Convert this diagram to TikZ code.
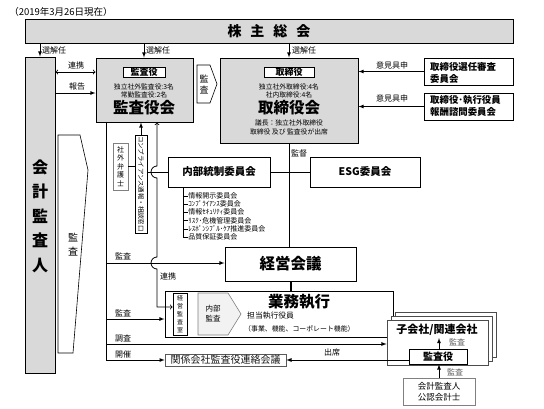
\documentclass[tikz,border=0pt]{standalone}
\usepackage{fontspec}
\setmainfont{Noto Sans CJK JP}
\usetikzlibrary{positioning,arrows}
\newcommand{\fsz}[2]{\fontsize{#1}{#2}\selectfont}

\begin{document}
\begin{tikzpicture}[x=1pt,y=1pt,
  gbox/.style={draw,fill=gray!30,line width=1pt,inner sep=0pt},
  wbox/.style={draw,fill=white,line width=1pt,inner sep=0pt},
  lbl/.style={inner sep=0pt,font=\fsz{8}{9}},
  arr/.style={-latex,line width=0.8pt},
  lnk/.style={to-to,line width=0.8pt}]
\tikzstyle{every node}+=[inner sep=0pt]
\useasboundingbox (0,0) rectangle (544,-408);
\node[font=\fsz{9.5}{10}] (date) at (61,-12) {（2019年3月26日現在）};
\node[gbox,minimum width=488,minimum height=24,font=\bfseries\fsz{14}{14}] (kabunushi) at (269,-31) {株\hspace{9pt}主\hspace{9pt}総\hspace{9pt}会};
\node[gbox,minimum width=30,minimum height=316] (kaikei) at (40,-215) {};
\node[font=\bfseries\fsz{16}{24.5},align=center] (kaikeitxt) at (40,-216) {会\\計\\監\\査\\人};
\draw[line width=0.6pt] (58,-135) -- (80,-135) -- (88,-170) -- (73,-353) -- (58,-353) -- cycle;
\node[font=\fsz{10}{14},align=center] (kansaL) at (73,-245) {監\\査};
\node[gbox,minimum width=97,minimum height=64] (kansakai) at (144.5,-90) {};
\node[wbox,line width=0.6pt,minimum width=42,minimum height=10,font=\bfseries\fsz{9}{9}] (kansayaku) at (144,-72.5) {監査役};
\node[font=\fsz{6.8}{8.2},align=center] (kansainfo) at (144,-91) {独立社外監査役:3名\\常勤監査役:2名};
\node[font=\bfseries\fsz{15.5}{16}] (kansakaitxt) at (144,-108) {監査役会};
\node[gbox,minimum width=138,minimum height=85] (torikai) at (289,-100.5) {};
\node[wbox,line width=0.6pt,minimum width=50,minimum height=10,font=\bfseries\fsz{9}{9}] (torishimari) at (289,-72) {取締役};
\node[font=\fsz{6.8}{8.2},align=center] (toriinfo) at (289,-91) {独立社外取締役:4名\\社内取締役:4名};
\node[font=\bfseries\fsz{15.5}{16}] (torikaitxt) at (289,-108) {取締役会};
\node[font=\fsz{6.8}{9},align=center] (gicho) at (289,-127.5) {議長：独立社外取締役\\取締役 及び 監査役が出席};
\draw[line width=0.6pt,fill=white] (197,-65) -- (210,-65) -- (217,-84) -- (210,-103) -- (197,-103) -- cycle;
\node[font=\fsz{9}{11},align=center] (kansaM) at (204,-84) {監\\査};
\node[draw,line width=1pt,minimum width=89,minimum height=27] (senin) at (468.5,-71.5) {};
\node[font=\bfseries\fsz{9.4}{12},align=left,anchor=west] at (430,-73) {取締役選任審査\\委員会};
\node[draw,line width=1pt,minimum width=89,minimum height=27] (hoshu) at (468.5,-106.5) {};
\node[font=\bfseries\fsz{9.4}{12},align=left,anchor=west] at (430,-105.5) {取締役･執行役員\\報酬諮問委員会};
\draw[arr] (senin.west) -- (senin.west -| torikai.east);
\draw[arr] (hoshu.west) -- (hoshu.west -| torikai.east);
\node[lbl] (iken1) at (392,-65) {意見具申};
\node[lbl] (iken2) at (392,-98) {意見具申};
\draw[arr] (kabunushi.south -| kaikei) -- (kaikei.north);
\draw[arr] (kabunushi.south -| 144,0) -- (kansakai.north -| 144,0);
\draw[arr] (kabunushi.south -| torikai) -- (torikai.north);
\node[lbl,anchor=west] (sen1) at (42,-50) {選解任};
\node[lbl,anchor=west] (sen2) at (146,-50) {選解任};
\node[lbl,anchor=west] (sen3) at (292,-50) {選解任};
\draw[lnk] (kaikei.east |- 0,-72) -- (kansakai.west |- 0,-72);
\draw[arr] (kaikei.east |- 0,-93) -- (kansakai.west |- 0,-93);
\node[lbl] (renkei1) at (76,-65) {連携};
\node[lbl] (hokoku) at (77,-86) {報告};
\node[draw=gray,line width=0.6pt,fill=white,minimum width=15,minimum height=47,font=\fsz{7}{8.5},align=center] (bengoshi) at (120.5,-166.5) {社\\外\\弁\\護\\士};
\node[wbox,line width=0.6pt,minimum width=12,minimum height=98] (comp) at (141,-184) {};
\node[rotate=-90,font=\fsz{6.4}{6.4}] (comptxt) at (comp) {コンプライアンス通報・相談窓口};
\draw[arr] (comp.north) -- (comp.north |- kansakai.south);
\draw[line width=0.6pt] (bengoshi.east) -- (comp.west |- bengoshi.east);
\node[wbox,minimum width=102,minimum height=30,font=\bfseries\fsz{10.5}{11}] (naibu) at (219,-172) {内部統制委員会};
\node[wbox,minimum width=110,minimum height=30,font=\bfseries\fsz{10.5}{11}] (esg) at (365,-172) {ESG委員会};
\draw[line width=0.8pt] (comp.east |- naibu) -- (naibu.west);
\draw[line width=0.8pt] (naibu.east) -- (esg.west);
\draw[line width=0.6pt] (183,-187) -- (183,-237);
\foreach \y/\t in {196/情報開示委員会,204/ｺﾝﾌﾟﾗｲｱﾝｽ委員会,212/情報ｾｷｭﾘﾃｨ委員会,220.5/ﾘｽｸ･危機管理委員会,229/ﾚｽﾎﾟﾝｼﾌﾞﾙ･ｹｱ推進委員会,237/品質保証委員会}
  {\draw[line width=0.6pt] (183,-\y) -- (188,-\y) node[anchor=west,font=\fsz{7}{7}] {\t};}
\node[wbox,minimum width=131,minimum height=34,font=\bfseries\fsz{15.5}{16}] (keiei) at (290.5,-264) {経営会議};
\draw[line width=0.8pt] (torikai.south) -- (torikai.south |- keiei.north);
\node[lbl] (kantoku) at (299,-153) {監督};
\node[wbox,minimum width=228,minimum height=46] (gyomu) at (279,-314) {};
\draw[line width=2pt] (keiei.south) -- (keiei.south |- gyomu.north);
\node[font=\bfseries\fsz{15.5}{16}] (gyomutxt) at (299,-302) {業務執行};
\node[font=\fsz{7.8}{8},anchor=west] (tanto) at (247,-316) {担当執行役員};
\node[font=\fsz{6.9}{7},anchor=west] (jigyo) at (244,-329) {（事業、機能、コーポレート機能）};
\node[wbox,line width=0.8pt,minimum width=14,minimum height=42,font=\fsz{6}{8},align=center] (keieikansa) at (180,-314) {経\\営\\監\\査\\室};
\draw[draw=gray,fill=gray!10,line width=0.6pt] (198,-293) -- (228,-293) -- (241,-314) -- (228,-335) -- (198,-335) -- cycle;
\node[font=\fsz{7.5}{10},align=center] (naibukansa) at (213,-314) {内部\\監査};
\node[draw=gray!70!black,line width=0.6pt,minimum width=121,minimum height=12,font=\fsz{10}{10},text=gray!20!black] (kanren) at (225.5,-360) {関係会社監査役連絡会議};
\draw[line width=0.8pt] (kansakai.south -| 106,0) -- (106,-360);
\draw[arr] (106,-263) -- (keiei.west |- 0,-263);
\draw[arr] (106,-319) -- (gyomu.west |- 0,-319);
\draw[arr] (106,-360) -- (kanren.west);
\node[lbl] (kansa1) at (123,-256) {監査};
\node[lbl] (kansa2) at (123,-313) {監査};
\node[lbl] (chosa) at (123,-338) {調査};
\node[lbl] (kaisai) at (123,-354) {開催};
\draw[lnk] (kansakai.south -| 157,0) -- (157,-166) arc[start angle=90,end angle=270,radius=6] -- (157,-257) arc[start angle=90,end angle=270,radius=6] -- (157,-307) -- (keieikansa.west |- 0,-307);
\node[lbl] (renkei2) at (168,-276) {連携};
\node[draw=gray!60!black,fill=white,line width=0.7pt,minimum width=101,minimum height=45] (kogB) at (445.5,-334.5) {};
\node[draw=gray!60!black,fill=white,line width=0.7pt,minimum width=101,minimum height=45] (kogM) at (441.5,-338.5) {};
\node[draw=gray!60!black,fill=white,line width=0.7pt,minimum width=101,minimum height=45] (kog) at (437.5,-342.5) {};
\node[font=\bfseries\fsz{11}{11}] (kogtxt) at (437,-330) {子会社/関連会社};
\node[draw,fill=white,line width=0.8pt,minimum width=58,minimum height=15,font=\bfseries\fsz{10}{10}] (kyaku) at (438,-356.5) {監査役};
\draw[arr] (106,-344) -- (kog.west |- 0,-344);
\draw[arr] (kyaku.west |- kanren) -- (kanren.east);
\node[lbl] (shusseki) at (332,-352) {出席};
\draw[arr] (kyaku.north -| 439,0) -- (439,-338);
\node[lbl,text=gray!70!black] (kansa3) at (457,-342) {監査};
\node[draw=gray,line width=0.6pt,minimum width=72,minimum height=27,font=\fsz{8.5}{11},align=center] (kaikeishi) at (439,-391.5) {会計監査人\\公認会計士};
\draw[arr] (kaikeishi.north) -- (kaikeishi.north |- kyaku.south);
\node[lbl,text=gray!70!black] (kansa4) at (455,-372) {監査};
\end{tikzpicture}
\end{document}
